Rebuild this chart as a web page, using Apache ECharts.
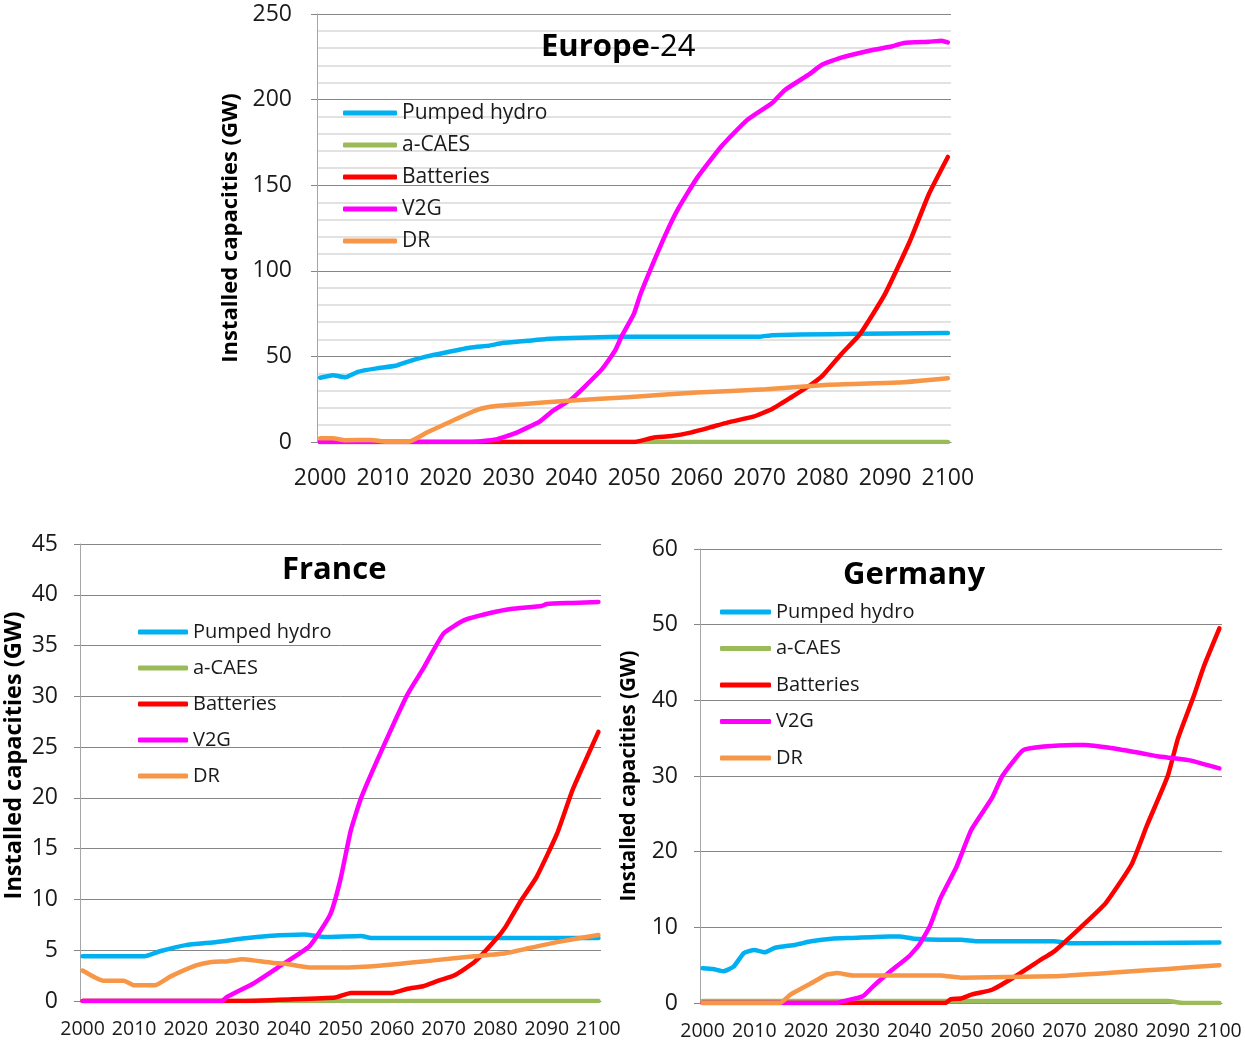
<!DOCTYPE html>
<html>
<head>
<meta charset="utf-8">
<script src="https://cdn.jsdelivr.net/npm/echarts@6/dist/echarts.min.js"></script>
<style>
  html, body { margin: 0; padding: 0; background: #fff; }
  #chart { width: 1245px; height: 1042px; }
</style>
</head>
<body>
<div id="chart"></div>
<script>
// years on the category axis
var firstYear = 2000;
var lastYear = 2100;
var names = ["Pumped hydro", "a-CAES", "Batteries", "V2G", "DR"];
var colors = ["#00b0f0", "#9bbb59", "#ff0000", "#ff00ff", "#f79646"];

// Europe-24 [year, GW]
var euHydro = [[2000,37.5],[2002,39],[2004,37.8],[2006,41],[2009,43],[2012,44.5],[2014,47],[2017,50],[2020,52.3],[2024,55.2],[2027,56.3],[2029,57.8],[2033,59.1],[2036,60.1],[2040,60.7],[2046,61.3],[2050,61.5],[2070,61.5],[2072,62.4],[2081,63],[2091,63.4],[2100,63.6]];
var euCaes = [[2000,0],[2050,0],[2100,0]];
var euBatt = [[2000,0],[2050,0],[2053,2.5],[2056,3.5],[2059,5.5],[2062,8.4],[2065,11.5],[2069,14.8],[2072,19.3],[2075,26],[2078,33],[2080,38.6],[2083,51.3],[2086,63],[2090,86.5],[2094,117.7],[2097,145],[2100,166.5]];
var euV2g = [[2000,0],[2024,0],[2028,1.5],[2031,5],[2035,12],[2037,18],[2040,25],[2042,31.8],[2045,43],[2047,53.5],[2048,61.5],[2050,75],[2051,86],[2053,104],[2055,121],[2057,136],[2060,154],[2064,173],[2068,188],[2072,198],[2074,205.5],[2078,215],[2080,220.5],[2083,224.5],[2088,229],[2091,231],[2093,233],[2097,233.8],[2099,234.4],[2100,233.4]];
var euDr = [[2000,2.2],[2002,2.2],[2004,1],[2008,1.2],[2011,0],[2014,0],[2017,5.5],[2021,12.3],[2025,18.8],[2028,21],[2032,22.1],[2039,24],[2049,26.2],[2060,28.9],[2071,30.8],[2081,33.4],[2092,34.7],[2100,37.3]];

// France [year, GW]
var frHydro = [[2000,4.4],[2012,4.4],[2015,4.9],[2020,5.5],[2026,5.8],[2031,6.15],[2036,6.4],[2043,6.55],[2047,6.3],[2054,6.4],[2056,6.2],[2100,6.2]];
var frCaes = [[2000,0],[2050,0],[2100,0]];
var frBatt = [[2000,0],[2030,0],[2040,0.15],[2049,0.35],[2052,0.8],[2060,0.8],[2063,1.2],[2066,1.45],[2069,2],[2072,2.5],[2076,3.85],[2080,6],[2082,7.3],[2085,9.9],[2088,12.2],[2092,16.5],[2095,20.8],[2100,26.5]];
var frV2g = [[2000,0],[2027,0],[2028,0.4],[2033,1.7],[2038,3.35],[2044,5.4],[2048,8.5],[2050,12],[2052,16.8],[2054,20],[2058,24.7],[2063,30.2],[2066,32.7],[2070,36.2],[2074,37.5],[2079,38.2],[2083,38.6],[2089,38.9],[2090,39.1],[2095,39.2],[2100,39.3]];
var frDr = [[2000,3],[2004,2],[2008,2],[2010,1.55],[2014,1.55],[2017,2.4],[2022,3.5],[2025,3.85],[2028,3.9],[2031,4.1],[2033,4],[2037,3.75],[2039,3.7],[2044,3.3],[2050,3.3],[2058,3.5],[2068,4.0],[2076,4.4],[2082,4.7],[2086,5.15],[2092,5.8],[2100,6.5]];

// Germany [year, GW]
var deHydro = [[2000,4.6],[2002,4.5],[2004,4.2],[2006,4.8],[2008,6.6],[2010,7.0],[2012,6.7],[2014,7.3],[2018,7.7],[2021,8.15],[2025,8.5],[2029,8.6],[2036,8.8],[2038,8.8],[2041,8.5],[2046,8.35],[2050,8.35],[2053,8.15],[2068,8.15],[2071,7.9],[2100,8.0]];
var deCaes = [[2000,0.25],[2090,0.25],[2093,0],[2100,0]];
var deBatt = [[2000,0],[2047,0],[2048,0.5],[2050,0.6],[2052,1.1],[2056,1.75],[2060,3.3],[2066,5.95],[2068,6.8],[2073,9.9],[2078,13.2],[2083,18.3],[2086,23.5],[2090,30],[2092,35],[2095,40.5],[2097,44.5],[2100,49.5]];
var deV2g = [[2000,0],[2026,0],[2027,0.2],[2031,0.9],[2033,2.2],[2036,4.0],[2040,6.2],[2042,7.8],[2044,10.2],[2046,13.8],[2049,17.8],[2050,19.5],[2052,22.9],[2056,27.1],[2058,30],[2062,33.4],[2066,33.9],[2072,34.1],[2074,34.1],[2079,33.7],[2085,33],[2088,32.6],[2094,32.1],[2100,31]];
var deDr = [[2000,0],[2015,0],[2017,1.1],[2021,2.6],[2024,3.75],[2026,3.95],[2029,3.65],[2046,3.65],[2050,3.35],[2056,3.4],[2068,3.55],[2079,4],[2090,4.5],[2100,5]];

var years = [];
for (var y = firstYear; y <= lastYear; y++) years.push(String(y));

var font = "Open Sans";
var panels = [
  { title: "Europe-24", data: [euHydro, euCaes, euBatt, euV2g, euDr], max: 250, step: 50, minor: true,
    grid: { left: 317, top: 14, width: 634, height: 428 },
    yFont: 23, xFont: 23, yMargin: 25, xMargin: 25, nameSize: 22, nameGap: 71, namePad: 0,
    legend: { left: 343, top: 100, itemWidth: 54, gap: 6, size: 21 },
    titlePos: { left: 541, top: 32 } },
  { title: "France", data: [frHydro, frCaes, frBatt, frV2g, frDr], max: 45, step: 5, minor: false,
    grid: { left: 80, top: 544, width: 521, height: 457 },
    yFont: 23, xFont: 19.5, yMargin: 22, xMargin: 18, nameSize: 23.5, nameGap: 54, namePad: 34,
    legend: { left: 138, top: 619, itemWidth: 50, gap: 10, size: 20 },
    titlePos: { left: 282, top: 555 } },
  { title: "Germany", data: [deHydro, deCaes, deBatt, deV2g, deDr], max: 60, step: 10, minor: false,
    grid: { left: 700, top: 549, width: 522, height: 454 },
    yFont: 23, xFont: 19.5, yMargin: 22, xMargin: 18, nameSize: 20.5, nameGap: 60, namePad: 0,
    legend: { left: 720, top: 599, itemWidth: 51, gap: 10.5, size: 20 },
    titlePos: { left: 843, top: 560 } }
];

var option = { animation: false, grid: [], xAxis: [], yAxis: [], series: [], legend: [], title: [] };

panels.forEach(function (p, i) {
  option.grid.push(p.grid);
  option.xAxis.push({
    type: "category", gridIndex: i, data: years, boundaryGap: true,
    axisLine: { lineStyle: { color: "#868686", width: 1 } },
    axisTick: { interval: 9, length: 6, lineStyle: { color: "#868686" } },
    axisLabel: { interval: 9, fontSize: p.xFont, fontFamily: font, color: "#1a1a1a", margin: p.xMargin },
    splitLine: { show: false }
  });
  option.yAxis.push({
    type: "value", gridIndex: i, min: 0, max: p.max, interval: p.step,
    name: "Installed capacities (GW)", nameLocation: "middle", nameRotate: 90, nameGap: p.nameGap,
    nameTextStyle: { fontSize: p.nameSize, fontWeight: "bold", fontFamily: font, color: "#000", padding: [0, 0, 0, p.namePad] },
    axisLine: { show: true, lineStyle: { color: "#a6a6a6" } },
    axisTick: { show: true, length: 6, lineStyle: { color: "#868686" } },
    axisLabel: { fontSize: p.yFont, fontFamily: font, color: "#1a1a1a", margin: p.yMargin },
    splitLine: { lineStyle: { color: "#868686" } },
    minorTick: { show: false, splitNumber: 5 },
    minorSplitLine: { show: p.minor, lineStyle: { color: "#d9d9d9", width: 1.5 } }
  });
  p.data.forEach(function (d, k) {
    option.series.push({
      name: names[k], type: "line", xAxisIndex: i, yAxisIndex: i,
      data: d.map(function (pt) { return [pt[0] - firstYear, pt[1]]; }),
      showSymbol: false, symbol: "none", smooth: 0.15,
      lineStyle: { color: colors[k], width: 4.5, cap: "round", join: "round" },
      itemStyle: { color: colors[k] }
    });
  });
  option.legend.push({
    orient: "vertical", left: p.legend.left, top: p.legend.top, padding: 0,
    itemWidth: p.legend.itemWidth, itemHeight: 5, itemGap: p.legend.gap, icon: "roundRect",
    selectedMode: false, data: names,
    textStyle: { fontSize: p.legend.size, fontFamily: font, color: "#1a1a1a", lineHeight: 26 }
  });
  var titleText = i === 0 ? "{b|Europe}{r|-24}" : "{b|" + p.title + "}";
  option.title.push({
    text: titleText, left: p.titlePos.left, top: p.titlePos.top, padding: 0,
    textStyle: { rich: {
      b: { fontSize: 31, fontWeight: "bold", fontFamily: font, color: "#000" },
      r: { fontSize: 31, fontWeight: "normal", fontFamily: font, color: "#000" }
    } }
  });
});

var chart = echarts.init(document.getElementById("chart"));
chart.setOption(option);
</script>
</body>
</html>
